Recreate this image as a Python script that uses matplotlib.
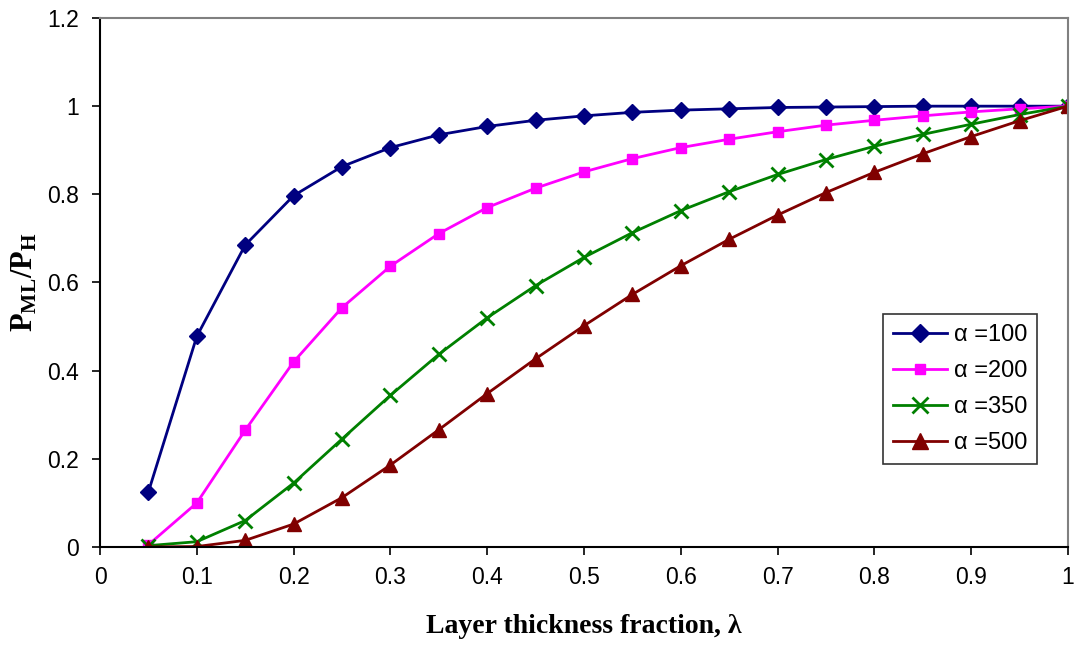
import matplotlib
matplotlib.use("Agg")
import matplotlib.pyplot as plt

plt.rcParams["mathtext.fontset"] = "custom"
plt.rcParams["mathtext.rm"] = "Liberation Serif"
plt.rcParams["mathtext.bf"] = "Liberation Serif:bold"

lam = [0.05, 0.10, 0.15, 0.20, 0.25, 0.30, 0.35, 0.40, 0.45, 0.50,
       0.55, 0.60, 0.65, 0.70, 0.75, 0.80, 0.85, 0.90, 0.95, 1.00]

alpha_100 = [0.125, 0.478, 0.685, 0.797, 0.863, 0.906, 0.935, 0.954, 0.968, 0.978,
             0.986, 0.991, 0.994, 0.997, 0.998, 0.999, 1.000, 1.000, 1.000, 1.000]
alpha_200 = [0.005, 0.100, 0.265, 0.420, 0.543, 0.637, 0.711, 0.770, 0.814, 0.851,
             0.881, 0.906, 0.925, 0.942, 0.957, 0.968, 0.978, 0.987, 0.994, 1.000]
alpha_350 = [0.003, 0.012, 0.060, 0.145, 0.245, 0.344, 0.437, 0.520, 0.593, 0.657,
             0.713, 0.763, 0.806, 0.845, 0.879, 0.909, 0.936, 0.959, 0.981, 1.000]
alpha_500 = [0.000, 0.001, 0.015, 0.052, 0.112, 0.186, 0.266, 0.348, 0.427, 0.502,
             0.573, 0.638, 0.698, 0.753, 0.804, 0.850, 0.892, 0.931, 0.967, 1.000]

labels = ["α =100", "α =200", "α =350", "α =500"]

fig = plt.figure(figsize=(10.78, 6.5), dpi=100)
ax = fig.add_axes([0.0928, 0.1585, 0.8979, 0.8138])

ax.plot(lam, alpha_100, color="#000080", marker="D", markersize=8, lw=2, label=labels[0])
ax.plot(lam, alpha_200, color="#FF00FF", marker="s", markersize=6.5, lw=2, label=labels[1])
ax.plot(lam, alpha_350, color="#008000", marker="x", markersize=10, mew=2, lw=2, label=labels[2])
ax.plot(lam, alpha_500, color="#800000", marker="^", markersize=10, lw=2, label=labels[3])

ax.set_xlim(0, 1)
ax.set_ylim(0, 1.2)
ax.set_xticks([i / 10 for i in range(11)])
ax.set_xticklabels(["0", "0.1", "0.2", "0.3", "0.4", "0.5", "0.6", "0.7", "0.8", "0.9", "1"])
ax.set_yticks([0, 0.2, 0.4, 0.6, 0.8, 1.0, 1.2])
ax.set_yticklabels(["0", "0.2", "0.4", "0.6", "0.8", "1", "1.2"])
ax.tick_params(direction="out", length=6, width=1.2, labelsize=16.5)
ax.tick_params(axis="y", pad=9)
ax.tick_params(axis="x", pad=8)
for lbl in ax.get_xticklabels() + ax.get_yticklabels():
    lbl.set_family("Liberation Sans")

for side in ("left", "bottom"):
    ax.spines[side].set_color("black")
    ax.spines[side].set_linewidth(1.5)
for side in ("top", "right"):
    ax.spines[side].set_color("#808080")
    ax.spines[side].set_linewidth(1.5)

ax.set_xlabel("Layer thickness fraction, λ", fontsize=20, fontweight="bold",
              family="Liberation Serif", labelpad=18)
ax.set_ylabel(r"$\mathbf{P_{ML}/P_{H}}$", fontsize=22, labelpad=6)

leg = ax.legend(loc="upper left", bbox_to_anchor=(0.797, 0.462),
                frameon=True, fancybox=False, edgecolor="black", handlelength=2.3,
                borderpad=0.4, labelspacing=0.6, handletextpad=0.3,
                borderaxespad=0.5, markerscale=1.1,
                prop={"family": "Liberation Sans", "size": 17})
leg.get_frame().set_linewidth(1.2)

fig.savefig("out.png", dpi=100)
